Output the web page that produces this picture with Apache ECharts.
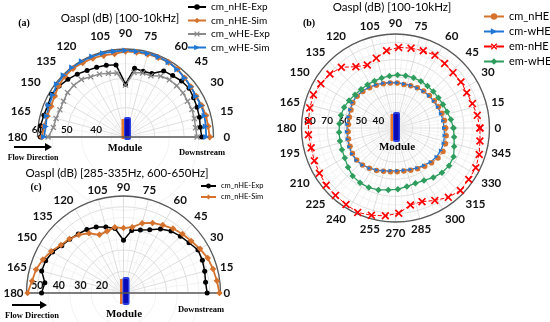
<!DOCTYPE html>
<html><head><meta charset="utf-8">
<script src="https://cdn.jsdelivr.net/npm/echarts@6/dist/echarts.min.js"></script>
<style>html,body{margin:0;padding:0;background:#fff}#c{width:550px;height:322px}</style>
</head><body><div id="c"></div>
<script>
// ---------- DATA ----------
// Panel (a): OASPL (dB) [100-10kHz], angles in degrees
const angA = [0,7.5,15,22.5,30,37.5,45,52.5,60,67.5,75,82.5,90,97.5,105,112.5,120,127.5,135,142.5,150,157.5,165,172.5,180];
const aNHEExp = [56.0,55.7,56.1,56.4,56.8,57.3,57.0,56.4,56.0,53.4,53.2,53.6,48.0,54.8,55.3,55.7,56.2,57.0,57.8,58.5,59.1,58.6,58.8,59.2,59.0];
const aNHESim = [58.7,58.4,58.4,58.1,57.8,58.1,58.5,59.2,59.4,59.3,59.2,59.1,59.2,58.6,58.8,59.1,59.2,59.4,59.3,58.7,57.9,57.5,57.6,58.0,58.5];
const aWHEExp = [54.4,54.1,54.3,54.5,54.4,54.7,54.7,54.6,54.0,52.6,52.6,52.2,47.7,52.0,52.5,53.2,53.7,54.7,54.9,54.9,54.4,54.2,54.5,54.8,56.4];
const aWHESim = [57.5,57.6,57.9,57.9,57.8,58.1,58.5,59.0,59.4,59.5,59.5,59.4,59.5,59.4,59.6,59.7,59.8,59.9,59.8,59.5,58.6,58.3,57.8,57.4,57.8];

// Panel (b): OASPL (dB) [100-10kHz], full circle
const angB = [0,8.8,17.6,26.3,35.1,43.9,52.7,61.5,70.2,79,87.8,96.6,105.4,114.1,122.9,131.7,140.5,149.3,158,166.8,175.6,184.4,193.2,202,210.7,219.5,228.3,237.1,245.9,254.6,263.4,272.2,281,289.8,298.5,307.3,316.1,324.9,333.7,342.4,351.2];
const bCmNHE = [59.3,59.0,58.4,58.1,57.8,57.5,57.2,56.8,56.3,56.0,56.3,56.5,56.8,57.4,58.0,58.7,59.1,59.0,58.1,57.7,57.6,57.8,58.2,58.7,59.3,59.4,59.0,58.1,57.2,56.3,55.7,55.6,55.7,56.3,57.1,58.1,59.3,60.4,61.0,60.7,60.0];
const bCmWHE = [58.4,58.2,57.8,57.6,57.4,57.2,57.0,56.7,56.4,56.3,56.5,56.8,57.2,57.8,58.4,59.0,59.4,59.3,58.6,58.3,58.3,58.5,58.8,59.2,59.6,59.6,59.0,58.0,57.0,56.0,55.2,55.0,55.2,55.8,56.6,57.5,58.6,59.3,59.6,59.5,59.0];
const bEmNHE = [79.4,78.4,77.2,76.5,76.8,76.7,77.4,78.4,78.0,77.6,77.2,75.5,72.4,70.4,72.7,77.6,79.7,80.8,81.8,81.5,81.1,81.1,80.7,81.2,81.8,82.6,82.8,83.3,84.1,83.0,81.7,79.9,75.9,75.8,78.2,81.0,82.7,82.4,82.4,81.4,80.0];
const bEmWHE = [63.9,62.8,61.6,61.0,60.7,60.7,60.9,61.2,61.2,61.2,61.1,60.7,60.4,60.2,60.2,60.3,60.7,61.6,62.4,62.8,62.9,63.1,63.4,63.8,64.5,66.0,67.7,68.2,68.2,67.6,66.5,65.9,64.8,64.4,64.9,66.5,67.7,68.3,67.9,66.0,64.7];

// Panel (c): OASPL (dB) [285-335Hz, 600-650Hz]
const angC = [0,7.5,15,22.5,30,37.5,45,52.5,60,67.5,75,82.5,90,97.5,105,112.5,120,127.5,135,142.5,150,157.5,165,172.5,180];
const cNHEExp = [48.8,48.4,49.0,49.6,49.9,48.3,47.3,46.2,44.3,41.8,40.3,39.3,34.5,40.2,41.7,43.1,44.0,44.5,45.3,46.1,48.0,49.1,49.3,46.8,48.0];
const cNHESim = [54.5,53.7,53.0,52.3,51.0,49.6,48.7,47.7,46.4,45.2,43.5,40.8,40.1,40.8,39.6,39.2,42.0,44.0,45.5,46.6,48.7,50.5,52.0,52.8,54.5];

// Tick labels
const radLabelsA = [40,50,60];
const radLabelsB = [40,50,60,70,80];
const radLabelsC = [20,30,40,50];

// ---------- STYLE / LAYOUT ----------
const ORANGE='#D4722E', BLUE='#1F76D4', GREY='#8A8A8A', RED='#FF0000', GREEN='#2E9D5E';
const X_SYM='path://M1.5,0L5,3.5L8.5,0L10,1.5L6.5,5L10,8.5L8.5,10L5,6.5L1.5,10L0,8.5L3.5,5L0,1.5Z';
const TRI_R='path://M0,0L10,5L0,10Z';
const FONT='Lato';
const P = [
  {c:[125.5,137], r:88},
  {c:[395.5,128], r:94},
  {c:[123.5,293], r:97}
];

function semiPts(vals, angs){ return vals.map((v,i)=>[v, -angs[i]]); }
function fullPts(vals, angs){
  const d = vals.map((v,i)=>[v, angs[i] > 180 ? angs[i]-360 : angs[i]]);
  d.push(d[0].slice());
  return d;
}
const gridCol='#d6d6d6', minorCol='#ececec', arcCol='#5a5a5a';

function angleAxisSemi(idx, margin){
  return {polarIndex:idx, type:'value', min:-180, max:0, startAngle:180, endAngle:0, clockwise:true, interval:15,
    axisLine:{lineStyle:{color:arcCol,width:1.3}}, axisTick:{show:false},
    axisLabel:{margin:margin, formatter:v=>String(Math.abs(v)), color:'#111', fontFamily:FONT, fontWeight:'bold', fontSize:11.5},
    splitLine:{lineStyle:{color:gridCol,width:0.8}},
    minorTick:{show:false, splitNumber:2}, minorSplitLine:{show:true, lineStyle:{color:minorCol,width:0.7}}};
}
function radiusAxis(idx, min, max, labels, fs){
  return {polarIndex:idx, type:'value', min:min, max:max, interval:10,
    axisLine:{show:false}, axisTick:{show:false},
    axisLabel:{margin:-2, verticalAlign:'bottom', formatter:v=>labels.includes(v)?String(v):'', color:'#111', fontFamily:FONT, fontWeight:'bold', fontSize:fs},
    splitLine:{lineStyle:{color:gridCol,width:0.8}},
    minorTick:{show:false, splitNumber:2}, minorSplitLine:{show:true, lineStyle:{color:minorCol,width:0.7}}};
}
function lineSeries(name, idx, data, color, symbol, size, lw, dashed){
  return {name:name, type:'line', coordinateSystem:'polar', polarIndex:idx, data:data, clip:false,
    symbol:symbol, symbolSize:size, showSymbol:true,
    lineStyle:{color:color, width:lw, type:dashed?'dashed':'solid'},
    itemStyle:{color:color}, emphasis:{disabled:true}, animation:false};
}

const T = (text, x, y, font, align) => ({type:'text', x:x, y:y, z:100,
  style:{text:text, font:font, fill:'#000', align:align||'center', verticalAlign:'middle'}});
const serifB = s => 'bold '+s+'px "Liberation Serif", "DejaVu Serif", serif';
const sans = s => s+'px '+FONT+', sans-serif';

function moduleBlob(x, y, h){
  return [
    {type:'rect', z:1, shape:{x:x-2.5, y:y, width:2.6, height:h}, style:{fill:'#E8772A'}},
    {type:'rect', z:1, shape:{x:x, y:y-2, width:7, height:h+3, r:2}, style:{fill:'#2A3FE0'}},
    {type:'rect', z:1, shape:{x:x+1, y:y, width:4.5, height:h-1, r:1}, style:{fill:'#0B0BB5'}}
  ];
}
function arrow(x1, x2, y){
  return [
    {type:'line', z:100, shape:{x1:x1, y1:y, x2:x2-5, y2:y}, style:{stroke:'#000', lineWidth:2}},
    {type:'polygon', z:100, shape:{points:[[x2-7,y-4],[x2,y],[x2-7,y+4]]}, style:{fill:'#000'}}
  ];
}

const option = {
  backgroundColor:'#fff',
  animation:false,
  polar: P.map(p=>({center:p.c, radius:p.r})),
  angleAxis: [
    angleAxisSemi(0, 10),
    {polarIndex:1, type:'value', min:-180, max:180, startAngle:180, clockwise:false, interval:15,
      axisLine:{lineStyle:{color:arcCol,width:1.3}}, axisTick:{show:false},
      axisLabel:{margin:5, formatter:v=> v===180 ? '' : String(v<0 ? v+360 : v), color:'#111', fontFamily:FONT, fontWeight:'bold', fontSize:11.5},
      splitLine:{lineStyle:{color:gridCol,width:0.8}},
      minorTick:{show:false, splitNumber:3}, minorSplitLine:{show:true, lineStyle:{color:minorCol,width:0.7}}},
    angleAxisSemi(2, 3)
  ],
  radiusAxis: [
    radiusAxis(0, 30, 60, radLabelsA, 10),
    radiusAxis(1, 30, 85, radLabelsB, 10),
    radiusAxis(2, 10, 55, radLabelsC, 10.5)
  ],
  legend: [
    {orient:'vertical', left:187, top:2, padding:0, itemGap:3.5, itemWidth:18, itemHeight:7,
      textStyle:{fontFamily:FONT, fontSize:10, color:'#000'},
      data:['cm_nHE-Exp','cm_nHE-Sim','cm_wHE-Exp','cm_wHE-Sim'], selectedMode:false},
    {orient:'vertical', left:483, top:11, padding:0, itemGap:4, itemWidth:20, itemHeight:8,
      textStyle:{fontFamily:FONT, fontSize:11, color:'#000'},
      data:['cm_nHE','cm-wHE','em-nHE','em-wHE'], selectedMode:false},
    {orient:'vertical', left:200, top:182, padding:0, itemGap:3, itemWidth:15, itemHeight:6,
      textStyle:{fontFamily:FONT, fontSize:7.5, color:'#000'},
      data:['cm_nHE-Exp','cm_nHE-Sim'], selectedMode:false}
  ],
  series: [
    lineSeries('cm_nHE-Exp', 0, semiPts(aNHEExp, angA), '#000', 'circle', 5, 1.5),
    lineSeries('cm_nHE-Sim', 0, semiPts(aNHESim, angA), ORANGE, 'diamond', 7, 1.8),
    lineSeries('cm_wHE-Exp', 0, semiPts(aWHEExp, angA), GREY, X_SYM, 6, 1.5),
    lineSeries('cm_wHE-Sim', 0, semiPts(aWHESim, angA), BLUE, TRI_R, 6, 1.8),

    lineSeries('cm_nHE', 1, fullPts(bCmNHE, angB), ORANGE, 'circle', 5.5, 0.8, true),
    lineSeries('cm-wHE', 1, fullPts(bCmWHE, angB), BLUE, TRI_R, 4, 1.3),
    lineSeries('em-nHE', 1, fullPts(bEmNHE, angB), RED, X_SYM, 8, 1, true),
    lineSeries('em-wHE', 1, fullPts(bEmWHE, angB), GREEN, 'diamond', 6.5, 1.3),

    lineSeries('cm_nHE-Exp', 2, semiPts(cNHEExp, angC), '#000', 'circle', 5, 1.5),
    lineSeries('cm_nHE-Sim', 2, semiPts(cNHESim, angC), ORANGE, 'diamond', 6.5, 1.8)
  ],
  graphic: {elements: [
    // baselines of the half-polar panels
    {type:'line', z:3, shape:{x1:P[0].c[0]-P[0].r, y1:P[0].c[1], x2:P[0].c[0]+P[0].r, y2:P[0].c[1]}, style:{stroke:arcCol, lineWidth:1.3}},
    {type:'line', z:3, shape:{x1:P[2].c[0]-P[2].r, y1:P[2].c[1], x2:P[2].c[0]+P[2].r, y2:P[2].c[1]}, style:{stroke:arcCol, lineWidth:1.3}},
    ...moduleBlob(124, 119, 20),
    ...moduleBlob(393, 114, 27),
    ...moduleBlob(122.5, 279, 25),
    T('Oaspl (dB) [100-10kHz]', 120, 18, sans(11.5)),
    T('Oaspl (dB) [100-10kHz]', 392, 7, sans(11.5)),
    T('Oaspl (dB) [285-335Hz, 600-650Hz]', 117, 173, sans(11.5)),
    T('(a)', 24, 23, serifB(10)),
    T('(b)', 309, 23, serifB(10)),
    T('(c)', 36, 187, serifB(10)),
    ...arrow(14, 52, 147),
    T('Flow Direction', 33, 158, serifB(8)),
    T('Module', 125, 148, serifB(10.5)),
    T('Downstream', 202, 153, serifB(8.5)),
    ...arrow(12, 47, 305),
    T('Flow Direction', 32, 316, serifB(8.5)),
    T('Module', 124, 314, serifB(11)),
    T('Downstream', 201, 310, serifB(8.5)),
    T('Module', 397, 147, serifB(11))
  ]}
};
const chart = echarts.init(document.getElementById('c'), null, {renderer:'canvas'});
chart.setOption(option);
</script></body></html>
